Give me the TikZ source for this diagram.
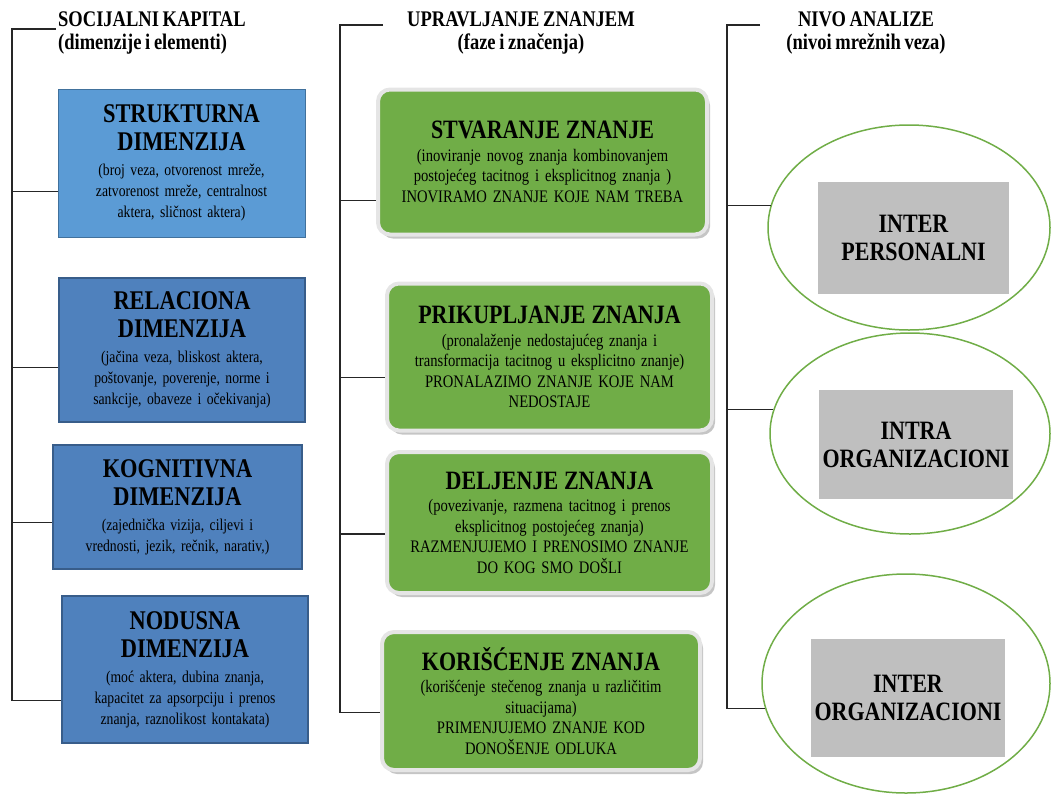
\documentclass[tikz,border=0pt]{standalone}
\usepackage{fontspec}
\setmainfont{Liberation Serif}[FakeStretch=0.83, WordSpace=0.8]
\usetikzlibrary{shapes.geometric, shadows, positioning}

\definecolor{svetloplava}{HTML}{5B9BD5}
\definecolor{svetloivica}{HTML}{41719C}
\definecolor{plava}{HTML}{4F81BD}
\definecolor{plavaivica}{HTML}{385D8A}
\definecolor{zelena}{HTML}{70AD47}
\definecolor{siva}{HTML}{BFBFBF}

\newcommand{\naslovfont}{\fontsize{22.3}{23}\selectfont\bfseries}
\newcommand{\dimfont}{\fontsize{27}{28}\selectfont\bfseries}
\newcommand{\fazafont}{\fontsize{26.5}{27}\selectfont\bfseries}
\newcommand{\opisfont}{\fontsize{16.5}{21}\selectfont}
\newcommand{\fazaopisfont}{\fontsize{17.6}{20.5}\selectfont}
\newcommand{\nivofont}{\fontsize{26.5}{28}\selectfont\bfseries}

\begin{document}
\begin{tikzpicture}[
                    x=1pt, y=-1pt,
                    every node/.style={align=center, inner sep=0pt, text=black},
                    naslov/.style={font=\naslovfont},
                    dimenzija/.style={rectangle, fill=plava, draw=plavaivica, line width=2.5pt, font=\opisfont, text width=240pt},
                    faza/.style={rectangle, rounded corners=12pt, fill=zelena, draw=black!10, line width=4pt, font=\fazaopisfont, text width=315pt,
                                 drop shadow={shadow xshift=3pt, shadow yshift=-4pt, fill=black!45}},
                    nivo/.style={ellipse, draw=zelena, line width=1.5pt},
                    nivobox/.style={rectangle, fill=siva, font=\nivofont},
                    grana/.style={line width=1.3pt, black!85}
                    ]

\useasboundingbox (0,0) rectangle (1051,795);

\node[naslov, align=left, anchor=north west] (kapital) at (58,12) {SOCIJALNI KAPITAL\\(dimenzije i elementi)};
\node[naslov, anchor=north] (upravljanje) at (521,12) {UPRAVLJANJE ZNANJEM\\(faze i značenja)};
\node[naslov, anchor=north] (nivoanalize) at (866,12) {NIVO ANALIZE\\(nivoi mrežnih veza)};

\node[dimenzija, fill=svetloplava, draw=svetloivica, line width=1pt, minimum width=247pt, minimum height=148pt] (strukturna) at (181.5,163)
  {{\dimfont STRUKTURNA\\DIMENZIJA\par}\vspace{4pt}(broj veza, otvorenost mreže,\\zatvorenost mreže, centralnost\\aktera, sličnost aktera)};
\node[dimenzija, minimum width=246pt, minimum height=144pt] (relaciona) at (182,350)
  {{\dimfont RELACIONA\\DIMENZIJA\par}\vspace{4pt}(jačina veza, bliskost aktera,\\poštovanje, poverenje, norme i\\sankcije, obaveze i očekivanja)};
\node[dimenzija, minimum width=249pt, minimum height=124pt] (kognitivna) at (177.5,507)
  {{\dimfont KOGNITIVNA\\DIMENZIJA\par}\vspace{4pt}(zajednička vizija, ciljevi i\\vrednosti, jezik, rečnik, narativ,)};
\node[dimenzija, minimum width=246pt, minimum height=147pt] (nodusna) at (185,669.5)
  {{\dimfont NODUSNA\\DIMENZIJA\par}\vspace{4pt}(moć aktera, dubina znanja,\\kapacitet za apsorpciju i prenos\\znanja, raznolikost kontakata)};

\node[faza, minimum width=329pt, minimum height=145pt] (stvaranje) at (542.5,162)
  {{\fazafont STVARANJE ZNANJE\par}\vspace{2pt}(inoviranje novog znanja kombinovanjem\\postojećeg tacitnog i eksplicitnog znanja )\\INOVIRAMO ZNANJE KOJE NAM TREBA};
\node[faza, minimum width=325pt, minimum height=147pt] (prikupljanje) at (549.5,357)
  {{\fazafont PRIKUPLJANJE ZNANJA\par}\vspace{2pt}(pronalaženje nedostajućeg znanja i\\transformacija tacitnog u eksplicitno znanje)\\PRONALAZIMO ZNANJE KOJE NAM\\NEDOSTAJE};
\node[faza, minimum width=325pt, minimum height=141pt] (deljenje) at (549.5,522.5)
  {{\fazafont DELJENJE ZNANJA\par}\vspace{2pt}(povezivanje, razmena tacitnog i prenos\\eksplicitnog postojećeg znanja)\\RAZMENJUJEMO I PRENOSIMO ZNANJE\\DO KOG SMO DOŠLI};
\node[faza, minimum width=318pt, minimum height=138pt] (koriscenje) at (541,701)
  {{\fazafont KORIŠĆENJE ZNANJA\par}\vspace{2pt}(korišćenje stečenog znanja u različitim\\situacijama)\\PRIMENJUJEMO ZNANJE KOD\\DONOŠENJE ODLUKA};

\node[nivo, minimum width=282pt, minimum height=205pt] (interpersonalni) at (909,227.5) {};
\node[nivo, minimum width=280pt, minimum height=201pt] (intraorg) at (910,433.5) {};
\node[nivo, minimum width=288pt, minimum height=219pt] (interorg) at (906,683.5) {};
\node[nivobox, minimum width=191pt, minimum height=112pt] (interpersonalnitekst) at (913.5,238) {INTER\\PERSONALNI};
\node[nivobox, minimum width=194pt, minimum height=109pt] (intraorgtekst) at (916,444.5) {INTRA\\ORGANIZACIONI};
\node[nivobox, minimum width=194pt, minimum height=118pt] (interorgtekst) at (908,698) {INTER\\ORGANIZACIONI};

\coordinate (k0) at (12,29);
\coordinate (k1) at (56,29);
\coordinate (m0) at (340,25);
\coordinate (m1) at (383,25);
\coordinate (n0) at (727,25);
\coordinate (n1) at (760,25);

\draw[grana] (k1) -- (k0) |- (nodusna.194);
\draw[grana] (k0 |- strukturna.193) -- (strukturna.193);
\draw[grana] (k0 |- relaciona.188) -- (relaciona.188);
\draw[grana] (k0 |- kognitivna.187) -- (kognitivna.187);

\draw[grana] (m1) -- (m0) |- (koriscenje.184);
\draw[grana] (m0 |- stvaranje.193) -- (stvaranje.193);
\draw[grana] (m0 |- prikupljanje.187) -- (prikupljanje.187);
\draw[grana] (m0 |- deljenje.184) -- (deljenje.184);

\draw[grana] (n1) -- (n0) |- (interorg.190);
\draw[grana] (n0 |- interpersonalni.171) -- (interpersonalni.171);
\draw[grana] (n0 |- intraorg.170) -- (intraorg.170);

\end{tikzpicture}
\end{document}
